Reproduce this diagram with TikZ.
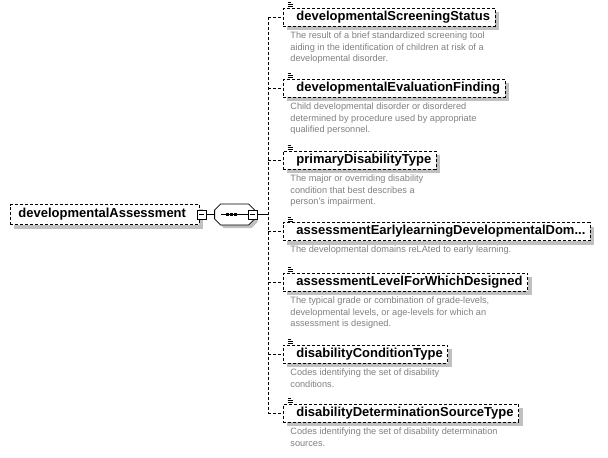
\documentclass[tikz,border=0pt]{standalone}
\usepackage{fontspec}
\setmainfont{Liberation Sans}
\usetikzlibrary{shadows, positioning}

\definecolor{desctext}{RGB}{128,128,128}
\definecolor{shadowgray}{RGB}{192,192,192}

\newcommand{\annoicon}[1]{%
  \draw[line width=0.7pt] ([shift={(4.5pt,5pt)}]#1.north west) -- ++(3.5pt,0pt);
  \draw[line width=0.7pt] ([shift={(4.5pt,3pt)}]#1.north west) -- ++(5pt,0pt);
  \draw[line width=0.7pt] ([shift={(4.5pt,1pt)}]#1.north west) -- ++(5pt,0pt);
}

\begin{document}
\begin{tikzpicture}[x=1pt,y=-1pt,line width=0.8pt]

\tikzset{elem/.style = {draw, dash pattern=on 3pt off 2pt, fill=white, inner ysep=0pt,
    font=\fontsize{13}{15}\selectfont\bfseries,
    drop shadow={shadow xshift=4pt, shadow yshift=-4pt, fill=shadowgray, opacity=1}}}
\tikzset{child/.style = {elem, anchor=west, minimum height=18pt, inner xsep=5pt}}
\tikzset{desc/.style = {align=left, inner sep=0pt, text=desctext, font=\fontsize{9.2}{11.6}\selectfont}}
\tikzset{collapse/.style = {draw, solid, fill=white, minimum size=9pt, inner sep=0pt,
    path picture={\draw (path picture bounding box.west) ++(2pt,0pt) -- ++(5pt,0pt);}}}
\tikzset{link/.style = {dash pattern=on 3pt off 2pt}}

\useasboundingbox (0,0) rectangle (608,458);

%root and sequence
\node[elem, anchor=west, minimum height=20pt, inner xsep=8pt] (root) at (10,214.5) {developmentalAssessment\hspace*{5pt}};
\node[minimum width=40pt, minimum height=21pt, inner sep=0pt] (seq) at (235,214.5) {};
\draw[fill=white, drop shadow={shadow xshift=3pt, shadow yshift=-3pt, fill=shadowgray, opacity=1}]
  (seq.west) ++(0,-4.5) -- ++(6,-6) -- ++(28,0) -- ++(6,6) -- ++(0,9) -- ++(-6,6) -- ++(-28,0) -- ++(-6,-6) -- cycle;
\draw (seq.west) ++(6,0) -- ++(27,0);
\foreach \dx in {13,17,21} \fill (seq.west) ++(\dx,0) ++(-1.5,-1.5) rectangle ++(3,3);
\node[collapse] (rootm) at (201.5,214.5) {};
\node[collapse] (seqm) at (252.5,214.5) {};
\coordinate (spine) at (268,214.5);

%children
\node[child] (c1) at (283,17) {\hspace*{8pt}developmentalScreeningStatus};
\node[child] (c2) at (283,88) {\hspace*{8pt}developmentalEvaluationFinding};
\node[child] (c3) at (283,160) {\hspace*{8pt}primaryDisabilityType};
\node[child] (c4) at (283,231.5) {\hspace*{8pt}assessmentEarlylearningDevelopmentalDom...};
\node[child] (c5) at (283,282) {\hspace*{8pt}assessmentLevelForWhichDesigned};
\node[child] (c6) at (283,354) {\hspace*{8pt}disabilityConditionType};
\node[child] (c7) at (283,413) {\hspace*{8pt}disabilityDeterminationSourceType};
\foreach \n in {c1,c2,c3,c4,c5,c6,c7} {\annoicon{\n}}

%descriptions
\node[desc, below right=5pt and 7pt of c1.south west] (d1) {The result of a brief standardized screening tool\\aiding in the identification of children at risk of a\\developmental disorder.};
\node[desc, below right=5pt and 7pt of c2.south west] (d2) {Child developmental disorder or disordered\\determined by procedure used by appropriate\\qualified personnel.};
\node[desc, below right=5pt and 7pt of c3.south west] (d3) {The major or overriding disability\\condition that best describes a\\person's impairment.};
\node[desc, below right=5pt and 7pt of c4.south west] (d4) {The developmental domains reLAted to early learning.};
\node[desc, below right=5pt and 7pt of c5.south west] (d5) {The typical grade or combination of grade-levels,\\developmental levels, or age-levels for which an\\assessment is designed.};
\node[desc, below right=5pt and 7pt of c6.south west] (d6) {Codes identifying the set of disability\\conditions.};
\node[desc, below right=5pt and 7pt of c7.south west] (d7) {Codes identifying the set of disability determination\\sources.};

%edges
\draw (rootm.east) -- (seq.west);
\draw (seqm.east) -- (spine);
\draw[link] (c1.west -| spine) -- (c7.west -| spine);
\foreach \n in {c1,c2,c3,c4,c5,c6,c7} \draw[link] (\n.west -| spine) -- (\n.west);

\end{tikzpicture}
\end{document}
